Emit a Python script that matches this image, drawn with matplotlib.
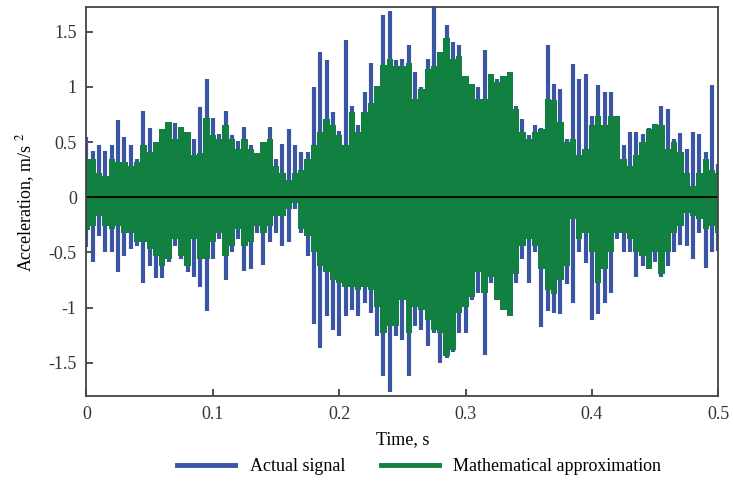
import numpy as np
import matplotlib
matplotlib.use("Agg")
import matplotlib.pyplot as plt
from matplotlib.lines import Line2D

plt.rcParams['font.family'] = ['Liberation Serif', 'DejaVu Serif']
plt.rcParams['mathtext.fontset'] = 'stix'
plt.rcParams['axes.unicode_minus'] = False

time = np.arange(101) * 0.005

# Messsignal (blau), obere und untere Einhuellende
actual_hi = [0.55, 0.42, 0.47, 0.42, 0.47, 0.70, 0.55, 0.47, 0.35, 0.78, 0.63, 0.42, 0.62, 0.68, 0.67, 0.64, 0.59,
             0.53, 0.82, 1.07, 0.72, 0.57, 0.78, 0.56, 0.51, 0.64, 0.47, 0.38, 0.50, 0.64, 0.35, 0.48, 0.62, 0.47,
             0.41, 0.41, 1.00, 1.32, 1.24, 0.77, 0.60, 1.42, 0.83, 0.65, 0.95, 1.22, 1.01, 1.65, 1.69, 1.24, 1.25,
             1.38, 1.13, 1.00, 1.25, 1.74, 1.32, 1.56, 1.41, 1.38, 1.10, 1.03, 1.00, 1.33, 1.12, 1.07, 1.10, 1.13,
             0.83, 0.71, 0.56, 0.65, 0.63, 1.38, 1.03, 0.98, 0.53, 1.21, 1.07, 1.12, 0.74, 1.02, 0.95, 0.95,
             0.74, 0.47, 0.59, 0.59, 0.57, 0.63, 0.66, 0.83, 0.80, 0.53, 0.58, 0.44, 0.59, 0.57, 0.41, 1.02, 0.30]
actual_lo = [-0.45, -0.59, -0.35, -0.50, -0.50, -0.68, -0.53, -0.47, -0.44, -0.78, -0.62, -0.73, -0.73, -0.59, -0.44, -0.56, -0.68,
             -0.72, -0.81, -1.03, -0.56, -0.38, -0.75, -0.50, -0.38, -0.67, -0.65, -0.32, -0.61, -0.41, -0.32, -0.44, -0.41, -0.11,
             -0.32, -0.53, -1.15, -1.37, -1.08, -1.20, -1.26, -1.08, -1.02, -1.08, -0.96, -1.05, -1.26, -1.62, -1.76, -1.26, -1.29,
             -1.62, -1.17, -1.20, -1.35, -1.23, -1.50, -1.46, -1.40, -1.23, -1.23, -0.93, -0.87, -1.43, -0.78, -0.93, -1.02, -1.08,
             -0.78, -0.56, -0.78, -0.50, -1.18, -1.03, -1.05, -1.06, -0.79, -0.96, -0.50, -0.60, -1.11, -1.06, -0.96, -0.87,
             -0.38, -0.50, -0.50, -0.72, -0.62, -0.62, -0.59, -0.72, -0.62, -0.50, -0.43, -0.44, -0.56, -0.32, -0.64, -0.50, -0.49]

# mathematische Naeherung (gruen)
approx_hi = [0.35, 0.35, 0.22, 0.19, 0.35, 0.32, 0.32, 0.28, 0.32, 0.47, 0.41, 0.50, 0.62, 0.68, 0.53, 0.64, 0.59,
             0.38, 0.40, 0.72, 0.56, 0.53, 0.65, 0.53, 0.44, 0.53, 0.44, 0.40, 0.50, 0.53, 0.28, 0.22, 0.16, 0.22,
             0.25, 0.35, 0.47, 0.59, 0.71, 0.65, 0.56, 0.47, 0.77, 0.59, 0.77, 0.85, 1.01, 1.20, 1.25, 1.19, 1.19,
             1.22, 0.89, 0.98, 1.16, 1.19, 1.32, 1.44, 1.25, 1.28, 1.10, 1.03, 0.89, 0.89, 1.12, 1.04, 1.10, 1.13,
             0.80, 0.59, 0.53, 0.59, 0.62, 0.89, 0.88, 0.68, 0.50, 0.53, 0.38, 0.44, 0.65, 0.74, 0.65, 0.74,
             0.74, 0.35, 0.28, 0.38, 0.50, 0.62, 0.66, 0.65, 0.44, 0.50, 0.41, 0.22, 0.10, 0.22, 0.35, 0.25, 0.22]
approx_lo = [-0.30, -0.26, -0.17, -0.26, -0.29, -0.26, -0.32, -0.32, -0.41, -0.41, -0.47, -0.53, -0.62, -0.56, -0.38, -0.53, -0.62,
             -0.38, -0.56, -0.56, -0.41, -0.32, -0.53, -0.44, -0.29, -0.44, -0.41, -0.26, -0.32, -0.26, -0.17, -0.17, -0.11, -0.05,
             -0.29, -0.35, -0.50, -0.62, -0.68, -0.75, -0.78, -0.81, -0.81, -0.84, -0.81, -0.84, -0.99, -1.23, -1.17, -1.17, -0.93,
             -1.23, -0.99, -1.02, -1.11, -1.20, -1.23, -1.44, -1.38, -1.05, -0.99, -0.90, -0.68, -0.87, -0.72, -0.93, -1.02, -1.08,
             -0.70, -0.44, -0.38, -0.44, -0.65, -0.84, -0.88, -0.75, -0.62, -0.20, -0.38, -0.32, -0.50, -0.78, -0.65, -0.50,
             -0.32, -0.32, -0.38, -0.50, -0.53, -0.65, -0.50, -0.70, -0.50, -0.32, -0.26, -0.14, -0.17, -0.20, -0.29, -0.26, -0.32]

blau = '#3b55a5'
gruen = '#118040'

fig = plt.figure(figsize=(7.33, 4.90), dpi=100)
ax = fig.add_axes([0.118, 0.192, 0.862, 0.793])

ax.vlines(time, actual_lo, actual_hi, color=blau, lw=3.0, zorder=2)
ax.fill_between(time, approx_lo, approx_hi, step='mid', color=gruen, lw=0, zorder=3)
ax.axhline(0, color='black', lw=1.3, zorder=4)

ax.set_xlim(0, 0.5)
ax.set_ylim(-1.8, 1.72)
ax.set_xticks([0, 0.1, 0.2, 0.3, 0.4, 0.5])
ax.set_xticklabels(['0', '0.1', '0.2', '0.3', '0.4', '0.5'])
ax.set_yticks([-1.5, -1, -0.5, 0, 0.5, 1, 1.5])
ax.set_yticklabels(['-1.5', '-1', '-0.5', '0', '0.5', '1', '1.5'])
ax.tick_params(direction='in', length=5, width=1.2, labelsize=13, colors='#333333', pad=7)
for s in ax.spines.values():
    s.set_color('#444444')
    s.set_linewidth(1.3)
    s.set_zorder(5)

ax.set_xlabel('Time, s', fontsize=13, labelpad=6)
ax.set_ylabel('Acceleration, m/s $^2$', fontsize=13, labelpad=8)

handles = [Line2D([], [], color=blau, lw=3.5), Line2D([], [], color=gruen, lw=3.5)]
fig.legend(handles, ['Actual signal', 'Mathematical approximation'], loc='center',
           bbox_to_anchor=(0.572, 0.047), ncol=2, frameon=False, fontsize=13,
           handlelength=3.2, columnspacing=2.0)

fig.savefig('out.png', dpi=100)
